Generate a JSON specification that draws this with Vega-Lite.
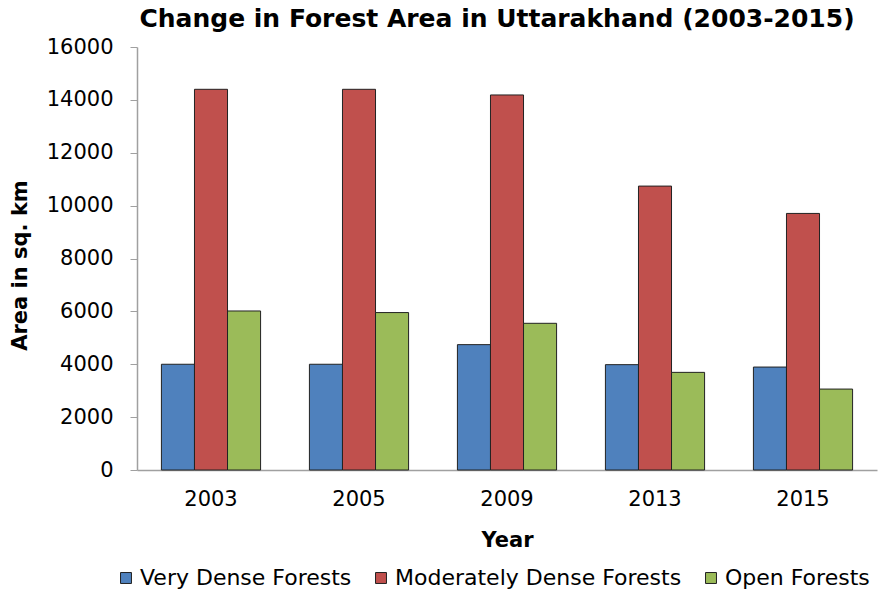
{
  "$schema": "https://vega.github.io/schema/vega-lite/v6.json",
  "autosize": {"type": "none"},
  "width": 740,
  "height": 423,
  "padding": {"left": 137, "top": 47, "right": 7, "bottom": 126},
  "background": "white",
  "config": {
    "font": "DejaVu Sans",
    "view": {"stroke": null}
  },
  "title": {
    "text": "Change in Forest Area in Uttarakhand (2003-2015)",
    "font": "DejaVu Sans",
    "fontSize": 25,
    "fontWeight": "bold",
    "color": "#000000",
    "offset": 4,
    "dx": -10
  },
  "data": {
    "values": [
      {"Year": "2003", "Type": "Very Dense Forests", "Area": 4000},
      {"Year": "2003", "Type": "Moderately Dense Forests", "Area": 14400},
      {"Year": "2003", "Type": "Open Forests", "Area": 6015},
      {"Year": "2005", "Type": "Very Dense Forests", "Area": 4000},
      {"Year": "2005", "Type": "Moderately Dense Forests", "Area": 14400},
      {"Year": "2005", "Type": "Open Forests", "Area": 5955},
      {"Year": "2009", "Type": "Very Dense Forests", "Area": 4742},
      {"Year": "2009", "Type": "Moderately Dense Forests", "Area": 14186},
      {"Year": "2009", "Type": "Open Forests", "Area": 5549},
      {"Year": "2013", "Type": "Very Dense Forests", "Area": 3985},
      {"Year": "2013", "Type": "Moderately Dense Forests", "Area": 10739},
      {"Year": "2013", "Type": "Open Forests", "Area": 3693},
      {"Year": "2015", "Type": "Very Dense Forests", "Area": 3894},
      {"Year": "2015", "Type": "Moderately Dense Forests", "Area": 9705},
      {"Year": "2015", "Type": "Open Forests", "Area": 3061}
    ]
  },
  "mark": {"type": "bar", "stroke": "#222222", "strokeWidth": 1},
  "encoding": {
    "x": {
      "field": "Year",
      "type": "nominal",
      "scale": {"paddingInner": 0.33, "paddingOuter": 0.165},
      "axis": {
        "title": "Year",
        "titleFontSize": 21,
        "titleFontWeight": "bold",
        "titleColor": "#000000",
        "titlePadding": 20,
        "labelAngle": 0,
        "labelFontSize": 21,
        "labelColor": "#000000",
        "labelPadding": 18,
        "ticks": false,
        "domainColor": "#a0a0a0",
        "domainWidth": 1.5
      }
    },
    "xOffset": {
      "field": "Type",
      "type": "nominal",
      "sort": ["Very Dense Forests", "Moderately Dense Forests", "Open Forests"],
      "scale": {"paddingInner": 0, "paddingOuter": 0}
    },
    "y": {
      "field": "Area",
      "type": "quantitative",
      "scale": {"domain": [0, 16000], "nice": false},
      "axis": {
        "title": "Area in sq. km",
        "titleFontSize": 21,
        "titleFontWeight": "bold",
        "titleColor": "#000000",
        "titlePadding": 16,
        "titleY": 218,
        "values": [0, 2000, 4000, 6000, 8000, 10000, 12000, 14000, 16000],
        "format": "d",
        "labelFontSize": 21,
        "labelColor": "#000000",
        "labelPadding": 17,
        "grid": false,
        "tickColor": "#a0a0a0",
        "tickSize": 7,
        "domainColor": "#a0a0a0",
        "domainWidth": 1.5
      }
    },
    "color": {
      "field": "Type",
      "type": "nominal",
      "sort": ["Very Dense Forests", "Moderately Dense Forests", "Open Forests"],
      "scale": {
        "domain": ["Very Dense Forests", "Moderately Dense Forests", "Open Forests"],
        "range": ["#4F81BD", "#C0504D", "#9BBB59"]
      },
      "legend": {
        "title": null,
        "orient": "none",
        "direction": "horizontal",
        "legendX": -22,
        "legendY": 520,
        "symbolType": "square",
        "symbolSize": 120,
        "symbolStrokeColor": "#222222",
        "symbolStrokeWidth": 1,
        "labelFont": "DejaVu Sans",
        "labelFontSize": 22,
        "labelColor": "#000000",
        "labelOffset": 3,
        "columnPadding": 18,
        "labelLimit": 400
      }
    }
  }
}
